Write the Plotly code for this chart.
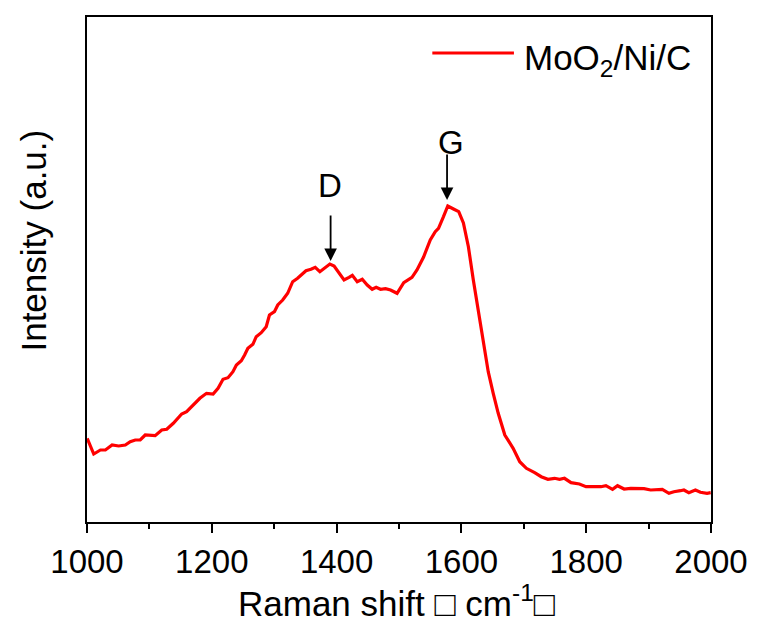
import plotly.graph_objects as go

# Raman spectrum of MoO2/Ni/C (wavenumber in cm-1, intensity in arbitrary units)
wavenumber = [
    1000.3, 1010.8, 1021.5, 1029.5, 1040.2, 1050.7, 1061.4, 1069.3, 1077.3, 1085.3,
    1093.3, 1103.9, 1109.2, 1119.8, 1127.8, 1138.3, 1151.7, 1159.7, 1170.2, 1180.9,
    1191.5, 1202.1, 1210.0, 1218.0, 1226.0, 1233.9, 1239.4, 1247.3, 1252.6, 1257.8,
    1265.8, 1271.2, 1279.2, 1287.2, 1292.4, 1300.4, 1305.7, 1313.6, 1321.6, 1329.6,
    1337.5, 1345.5, 1350.9, 1358.9, 1365.7, 1373.2, 1380.1, 1389.2, 1396.0, 1404.0,
    1411.9, 1419.9, 1425.2, 1433.1, 1441.1, 1449.1, 1457.0, 1463.4, 1470.4, 1478.4,
    1486.4, 1496.9, 1507.6, 1520.8, 1528.8, 1539.4, 1550.1, 1558.1, 1563.3, 1571.3,
    1578.2, 1587.3, 1595.7, 1603.2, 1611.2, 1619.1, 1627.1, 1635.1, 1643.0, 1651.0,
    1659.0, 1669.6, 1674.9, 1682.9, 1693.5, 1704.1, 1717.4, 1727.9, 1738.6, 1749.3,
    1757.3, 1765.2, 1775.7, 1789.1, 1799.7, 1813.1, 1823.6, 1831.6, 1842.2, 1850.2,
    1860.8, 1871.4, 1882.1, 1892.7, 1903.3, 1913.9, 1921.9, 1932.6, 1940.5, 1951.1,
    1956.5, 1964.5, 1975.0, 1983.0, 1993.7, 1999.5,
]
intensity = [
    83.7, 68.0, 72.0, 72.0, 77.0, 76.0, 77.0, 80.3, 82.0, 82.0,
    87.0, 87.0, 86.3, 92.0, 92.7, 98.7, 108.0, 110.3, 117.0, 123.7,
    128.7, 128.0, 133.7, 142.7, 144.3, 150.3, 157.0, 161.3, 167.0, 173.7,
    177.7, 185.3, 189.3, 195.3, 207.0, 210.3, 217.0, 222.0, 228.7, 240.3,
    243.7, 248.0, 251.3, 252.7, 254.7, 250.3, 253.7, 258.0, 256.0, 248.7,
    242.0, 244.7, 246.7, 240.3, 242.7, 237.0, 232.7, 234.7, 232.7, 233.3,
    232.0, 228.7, 239.3, 244.7, 252.0, 265.0, 282.0, 290.3, 293.7, 305.3,
    316.0, 313.0, 310.3, 299.0, 275.3, 242.0, 212.0, 178.7, 150.3, 128.7,
    108.7, 87.0, 82.0, 73.7, 60.3, 53.7, 49.3, 45.3, 42.7, 43.7,
    42.7, 43.7, 39.3, 38.0, 35.3, 35.3, 35.3, 36.3, 32.7, 36.3,
    33.0, 33.7, 33.7, 33.3, 32.0, 32.0, 32.7, 28.7, 30.3, 31.3,
    32.0, 29.3, 32.0, 29.7, 28.7, 29.3,
]

x_ticks = [1000, 1200, 1400, 1600, 1800, 2000]
x_range = [1000, 2000]
y_range = [0, 505]

# Band markers: label, arrow tip position
band_labels = ["D", "G"]
band_positions = [1390.4, 1577.0]
band_tips = [261.0, 322.0]
label_heights = [337.0, 380.0]
label_positions = [1389.0, 1583.0]

series_name = "MoO<sub>2</sub>/Ni/C"
line_color = "#ff0000"
font_family = "Arial, Liberation Sans, sans-serif"

fig = go.Figure()
fig.add_trace(go.Scatter(
    x=wavenumber, y=intensity, mode="lines",
    line=dict(color=line_color, width=3.2),
    name=series_name, showlegend=False,
))

annotations = []
for lab, bx, tip, ly, lx in zip(band_labels, band_positions, band_tips,
                                label_heights, label_positions):
    annotations.append(dict(
        x=bx, y=tip, xref="x", yref="y", text="", showarrow=True,
        ax=0, ay=-47, arrowhead=2, arrowsize=1.4, arrowwidth=1.8,
        arrowcolor="black",
    ))
    annotations.append(dict(
        x=lx, y=ly, xref="x", yref="y", text=lab, showarrow=False,
        xanchor="center", yanchor="middle",
        font=dict(size=33, color="black", family=font_family),
    ))

# axis titles
annotations.append(dict(
    x=0.496, y=-0.156, xref="paper", yref="paper",
    xanchor="center", yanchor="middle",
    text="Raman shift \u25a1 cm<sup>-1</sup>\u25a1", showarrow=False,
    font=dict(size=35, color="black", family=font_family),
))
annotations.append(dict(
    x=-0.086, y=0.558, xref="paper", yref="paper", textangle=-90,
    xanchor="center", yanchor="middle",
    text="Intensity (a.u.)", showarrow=False,
    font=dict(size=35, color="black", family=font_family),
))
# legend entry
annotations.append(dict(
    x=0.697, y=0.915, xref="paper", yref="paper",
    xanchor="left", yanchor="middle",
    text=series_name, showarrow=False,
    font=dict(size=35, color="black", family=font_family),
))

fig.update_layout(
    width=760, height=621,
    margin=dict(l=87, r=46, t=17, b=99),
    paper_bgcolor="white", plot_bgcolor="white",
    font=dict(family=font_family, color="black", size=33),
    annotations=annotations,
    shapes=[dict(
        type="line", xref="paper", yref="paper",
        x0=0.5534, x1=0.6842, y0=0.9287, y1=0.9287,
        line=dict(color=line_color, width=3),
    )],
)
fig.update_xaxes(
    range=x_range, tickvals=x_ticks, ticks="outside", ticklen=9, tickwidth=2,
    tickcolor="black", showline=True, linewidth=2, linecolor="black",
    mirror=True, showgrid=False, zeroline=False,
    tickfont=dict(size=33, color="black", family=font_family),
    minor=dict(dtick=100, tick0=1000, ticks="outside", ticklen=5,
               tickwidth=2, tickcolor="black", showgrid=False),
)
fig.update_yaxes(
    range=y_range, showticklabels=False, ticks="", showline=True,
    linewidth=2, linecolor="black", mirror=True, showgrid=False,
    zeroline=False,
)

fig.write_html("out.html")
